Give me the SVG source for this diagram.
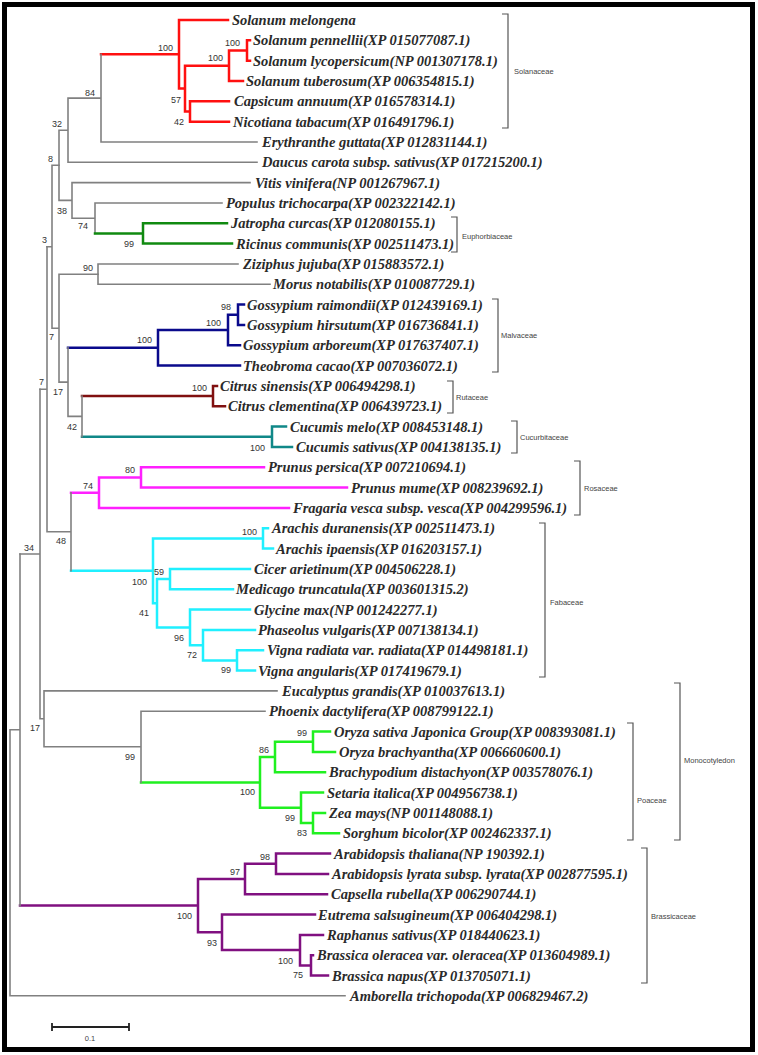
<svg xmlns="http://www.w3.org/2000/svg" width="758" height="1055" viewBox="0 0 758 1055">
<style>
.b{fill:none;stroke-linecap:square;stroke-linejoin:miter}
.g{stroke:#808080;stroke-width:1.6}
.red{stroke:#ff1010;stroke-width:2.5}
.grn{stroke:#108a10;stroke-width:2.5}
.nav{stroke:#0a0a8c;stroke-width:2.5}
.drd{stroke:#801010;stroke-width:2.5}
.tea{stroke:#108888;stroke-width:2.5}
.mag{stroke:#ff20ff;stroke-width:2.5}
.cya{stroke:#20f0ff;stroke-width:2.5}
.lim{stroke:#20f020;stroke-width:2.5}
.pur{stroke:#801080;stroke-width:2.5}
.lf{font-family:"Liberation Serif",serif;font-weight:bold;font-style:italic;font-size:14.5px;fill:#2a2a2a}
.bs{font-family:"Liberation Sans",Arial,sans-serif;font-size:9px;fill:#333;text-anchor:end}
.fam{font-family:"Liberation Sans",Arial,sans-serif;font-size:7.5px;fill:#444}
.br{fill:none;stroke:#555;stroke-width:1.2}
</style>
<rect x="4.5" y="4.5" width="748" height="1045" fill="#fff" stroke="#000" stroke-width="5"/>
<g id="connectors" class="b">
<path class="red" d="M250 40.3H247V60.7H250M247 50.5H229V81H243M229 101.3H190V121.7H229M229 65.75H185V111.5H190M228 20H179V88.6H185M101 54.3H179"/>
<path class="g" d="M101 54.3V142H257M101 98.15H68V162.3H257M68 130.2H59V200.4H72M250 182.6H72V218.2H95M222 203H95V233.5"/>
<path class="grn" d="M95 233.5H143M227 223.3H143V243.6H232"/>
<path class="g" d="M238 264H98V284.3H270"/>
<path class="nav" d="M244 304.6H238V325H244M238 314.8H228V345.3H240M228 330H158V365.6H240M68 347.8H158"/>
<path class="drd" d="M217 385.9H213V406.3H225M82 396.1H213"/>
<path class="tea" d="M286 426.6H272V446.9H292M82 436.8H272"/>
<path class="g" d="M82 396.1V436.8M68 416.4H82M68 347.8V416.4M59 382.1H68M98 274.2H59V382.1M52 328.2H59M59 165.3H52V328.2M47 246.7H52"/>
<path class="mag" d="M264 467.3H141V487.6H347M141 477.4H99V507.9H289M71 492.7H99"/>
<path class="cya" d="M268 528.3H263V548.6H273M250 568.9H170V589.2H233M263 650.2H237V670.6H255M255 629.9H203V660.4H237M250 609.6H190V645.2H203M170 579H157V627.4H190M263 538.4H153V603.2H157M71 570.8H153"/>
<path class="g" d="M71 492.7V570.8M47 531.7H71M47 246.7V531.7M40 389.2H47"/>
<path class="lim" d="M330 731.6H313V751.9H335M313 741.7H275V772.2H325M325 812.9H313V833.2H339M323 792.5H301V823H313M275 757H260V807.8H301M141 782.4H260"/>
<path class="g" d="M265 711.2H141V782.4M277 690.9H44V746.8H141M40 389.2V718.8H44M20 554H40"/>
<path class="pur" d="M330 853.5H276V873.9H328M276 863.7H245V894.2H327M313 955.2H311V975.5H328M323 934.9H300V965.4H311M315 914.5H222V950.1H300M245 879H198V932.3H222M20 905.6H198"/>
<path class="g" d="M20 554V905.6M10 729.8H20M10 729.8V995.8H345"/>
</g>
<g id="leaves" class="lf">
<g id="n1"><text x="232" y="25">Solanum melongena</text></g>
<g id="n2"><text x="253" y="45.3">Solanum pennellii(XP 015077087.1)</text></g>
<g id="n3"><text x="253" y="65.7">Solanum lycopersicum(NP 001307178.1)</text></g>
<g id="n4"><text x="246" y="86">Solanum tuberosum(XP 006354815.1)</text></g>
<g id="n5"><text x="234" y="106.3">Capsicum annuum(XP 016578314.1)</text></g>
<g id="n6"><text x="233" y="126.7">Nicotiana tabacum(XP 016491796.1)</text></g>
<g id="n7"><text x="262" y="147">Erythranthe guttata(XP 012831144.1)</text></g>
<g id="n8"><text x="262" y="167.3">Daucus carota subsp. sativus(XP 017215200.1)</text></g>
<g id="n9"><text x="255" y="187.6">Vitis vinifera(NP 001267967.1)</text></g>
<g id="n10"><text x="226" y="208">Populus trichocarpa(XP 002322142.1)</text></g>
<g id="n11"><text x="231" y="228.3">Jatropha curcas(XP 012080155.1)</text></g>
<g id="n12"><text x="236" y="248.6">Ricinus communis(XP 002511473.1)</text></g>
<g id="n13"><text x="243" y="269">Ziziphus jujuba(XP 015883572.1)</text></g>
<g id="n14"><text x="273" y="289.3">Morus notabilis(XP 010087729.1)</text></g>
<g id="n15"><text x="247" y="309.6">Gossypium raimondii(XP 012439169.1)</text></g>
<g id="n16"><text x="247" y="330">Gossypium hirsutum(XP 016736841.1)</text></g>
<g id="n17"><text x="243" y="350.3">Gossypium arboreum(XP 017637407.1)</text></g>
<g id="n18"><text x="243" y="370.6">Theobroma cacao(XP 007036072.1)</text></g>
<g id="n19"><text x="220" y="390.9">Citrus sinensis(XP 006494298.1)</text></g>
<g id="n20"><text x="228" y="411.3">Citrus clementina(XP 006439723.1)</text></g>
<g id="n21"><text x="290" y="431.6">Cucumis melo(XP 008453148.1)</text></g>
<g id="n22"><text x="296" y="451.9">Cucumis sativus(XP 004138135.1)</text></g>
<g id="n23"><text x="268" y="472.3">Prunus persica(XP 007210694.1)</text></g>
<g id="n24"><text x="351" y="492.6">Prunus mume(XP 008239692.1)</text></g>
<g id="n25"><text x="293" y="512.9">Fragaria vesca subsp. vesca(XP 004299596.1)</text></g>
<g id="n26"><text x="272" y="533.3">Arachis duranensis(XP 002511473.1)</text></g>
<g id="n27"><text x="276" y="553.6">Arachis ipaensis(XP 016203157.1)</text></g>
<g id="n28"><text x="254" y="573.9">Cicer arietinum(XP 004506228.1)</text></g>
<g id="n29"><text x="236" y="594.2">Medicago truncatula(XP 003601315.2)</text></g>
<g id="n30"><text x="254" y="614.6">Glycine max(NP 001242277.1)</text></g>
<g id="n31"><text x="258" y="634.9">Phaseolus vulgaris(XP 007138134.1)</text></g>
<g id="n32"><text x="267" y="655.2">Vigna radiata var. radiata(XP 014498181.1)</text></g>
<g id="n33"><text x="258" y="675.6">Vigna angularis(XP 017419679.1)</text></g>
<g id="n34"><text x="282" y="695.9">Eucalyptus grandis(XP 010037613.1)</text></g>
<g id="n35"><text x="269" y="716.2">Phoenix dactylifera(XP 008799122.1)</text></g>
<g id="n36"><text x="334" y="736.6">Oryza sativa Japonica Group(XP 008393081.1)</text></g>
<g id="n37"><text x="339" y="756.9">Oryza brachyantha(XP 006660600.1)</text></g>
<g id="n38"><text x="329" y="777.2">Brachypodium distachyon(XP 003578076.1)</text></g>
<g id="n39"><text x="327" y="797.5">Setaria italica(XP 004956738.1)</text></g>
<g id="n40"><text x="329" y="817.9">Zea mays(NP 001148088.1)</text></g>
<g id="n41"><text x="343" y="838.2">Sorghum bicolor(XP 002462337.1)</text></g>
<g id="n42"><text x="334" y="858.5">Arabidopsis thaliana(NP 190392.1)</text></g>
<g id="n43"><text x="332" y="878.9">Arabidopsis lyrata subsp. lyrata(XP 002877595.1)</text></g>
<g id="n44"><text x="331" y="899.2">Capsella rubella(XP 006290744.1)</text></g>
<g id="n45"><text x="318" y="919.5">Eutrema salsugineum(XP 006404298.1)</text></g>
<g id="n46"><text x="327" y="939.9">Raphanus sativus(XP 018440623.1)</text></g>
<g id="n47"><text x="317" y="960.2">Brassica oleracea var. oleracea(XP 013604989.1)</text></g>
<g id="n48"><text x="332" y="980.5">Brassica napus(XP 013705071.1)</text></g>
<g id="n49"><text x="350" y="1000.8">Amborella trichopoda(XP 006829467.2)</text></g>
</g>
<g id="bootstrap" class="bs">
<text x="240" y="46">100</text><text x="223" y="61">100</text><text x="184" y="125">42</text><text x="181" y="103">57</text><text x="173" y="51">100</text>
<text x="95" y="96">84</text><text x="62" y="127">32</text><text x="53" y="162">8</text><text x="67" y="214">38</text><text x="88" y="229">74</text><text x="134" y="247">99</text>
<text x="93" y="271">90</text><text x="47" y="243">3</text><text x="54" y="340">7</text><text x="44" y="385">7</text>
<text x="231" y="310">98</text><text x="221" y="326">100</text><text x="152" y="343">100</text><text x="63" y="395">17</text><text x="77" y="430">42</text>
<text x="207" y="391">100</text><text x="265" y="451">100</text><text x="135" y="473">80</text><text x="93" y="489">74</text><text x="66" y="544">48</text><text x="34" y="551">34</text>
<text x="257" y="535">100</text><text x="164" y="575">59</text><text x="147" y="585">100</text><text x="149" y="616">41</text><text x="184" y="641">96</text><text x="197" y="658">72</text><text x="231" y="673">99</text>
<text x="40" y="731">17</text><text x="135" y="760">99</text><text x="307" y="736">99</text><text x="269" y="753">86</text><text x="255" y="795">100</text><text x="295" y="821">99</text><text x="307" y="836">83</text>
<text x="270" y="860">98</text><text x="240" y="875">97</text><text x="192" y="919">100</text><text x="217" y="946">93</text><text x="293" y="964">100</text><text x="303" y="978">75</text>
</g>
<g id="families">
<g id="f-solanaceae"><path class="br" d="M502 14H508V128H502"/><text class="fam" x="514" y="74">Solanaceae</text></g>
<g id="f-euphorbiaceae"><path class="br" d="M451 217H457V252H451"/><text class="fam" x="462" y="239">Euphorbiaceae</text></g>
<g id="f-malvaceae"><path class="br" d="M492 299H498V372H492"/><text class="fam" x="501" y="338">Malvaceae</text></g>
<g id="f-rutaceae"><path class="br" d="M447 381H453V413H447"/><text class="fam" x="456" y="400">Rutaceae</text></g>
<g id="f-cucurbitaceae"><path class="br" d="M511 421H517V453H511"/><text class="fam" x="520" y="440">Cucurbitaceae</text></g>
<g id="f-rosaceae"><path class="br" d="M574 461H580V515H574"/><text class="fam" x="584" y="491">Rosaceae</text></g>
<g id="f-fabaceae"><path class="br" d="M539 523H545V677H539"/><text class="fam" x="550" y="605">Fabaceae</text></g>
<g id="f-monocotyledon"><path class="br" d="M674 683H680V840H674"/><text class="fam" x="684" y="763">Monocotyledon</text></g>
<g id="f-poaceae"><path class="br" d="M627 723H633V840H627"/><text class="fam" x="637" y="803">Poaceae</text></g>
<g id="f-brassicaceae"><path class="br" d="M641 848H647V983H641"/><text class="fam" x="651" y="919">Brassicaceae</text></g>
</g>
<g id="scalebar">
<path d="M52 1027H129M52 1023V1031M129 1023V1031" fill="none" stroke="#222" stroke-width="1.8"/>
<text class="fam" x="90" y="1041" text-anchor="middle" font-size="8">0.1</text>
</g>
</svg>
